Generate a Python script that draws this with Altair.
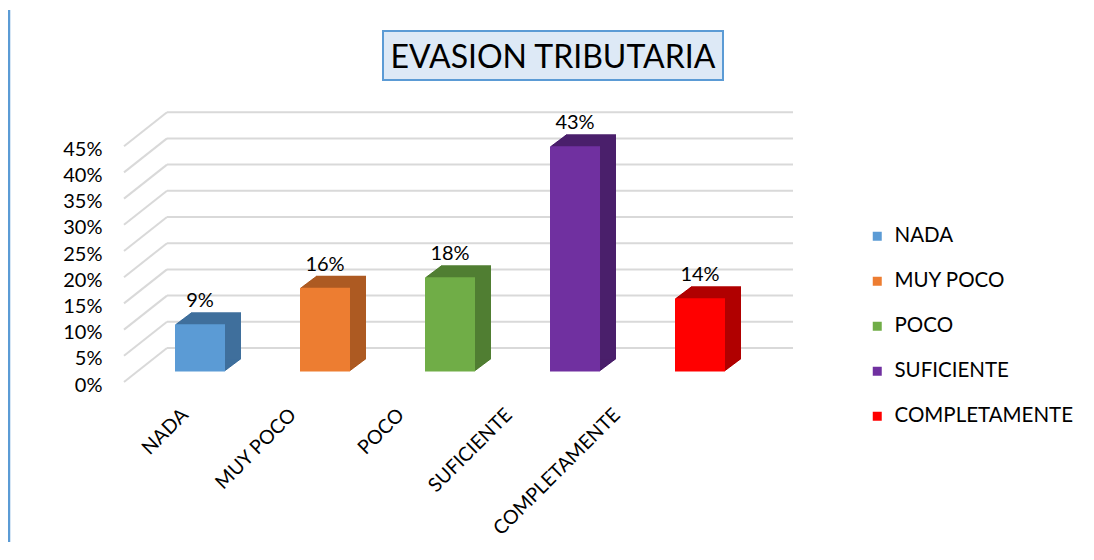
import altair as alt
import pandas as pd

categories = ["NADA", "MUY POCO", "POCO", "SUFICIENTE", "COMPLETAMENTE"]
values = [9, 16, 18, 43, 14]
front_colors = ["#5b9bd5", "#ed7d31", "#70ad47", "#7030a0", "#ff0000"]
side_colors = ["#3f6f9c", "#ad5a22", "#507e32", "#4a1f6b", "#b00000"]
ticks = [0, 5, 10, 15, 20, 25, 30, 35, 40, 45]
title_text = "EVASION TRIBUTARIA"

FONT = "Lato"
df = pd.DataFrame({"cat": categories, "value": values})
df["label"] = [f"{v}%" for v in values]
tick_df = pd.DataFrame({"t": ticks})

yscale = alt.Scale(domain=[0, 50])
y_axis = alt.Axis(values=ticks, labelExpr="datum.value + '%'", domain=False, ticks=False,
                  grid=False, labelPadding=23, labelFontSize=20, labelFont=FONT,
                  labelColor="#000000", labelOffset=3, title=None)
xband = alt.X("cat:N", sort=categories, axis=None,
              scale=alt.Scale(range=[12.5, 637.5], paddingInner=0.6, paddingOuter=0.3))

FRONT_OFF = -10.5
DEPTH_X = 16
DEPTH_Y = 12

grid_diag = alt.Chart(tick_df).mark_rule(color="#d9d9d9", strokeWidth=2, y2Offset=-34).encode(
    x=alt.value(-1), x2=alt.value(42),
    y=alt.Y("t:Q", scale=yscale, axis=y_axis),
    y2="t:Q",
)
grid_back = alt.Chart(tick_df).mark_rule(color="#d9d9d9", strokeWidth=2, yOffset=-34).encode(
    x=alt.value(42), x2=alt.value(668),
    y=alt.Y("t:Q", scale=yscale, axis=y_axis),
)

layers = [grid_diag, grid_back]
for i in range(1, DEPTH_X + 1):
    off = FRONT_OFF - DEPTH_Y * i / DEPTH_X
    layers.append(
        alt.Chart(df).mark_bar(xOffset=i, yOffset=off, y2Offset=off).encode(
            x=xband,
            y=alt.Y("value:Q", scale=yscale, axis=y_axis),
            color=alt.Color("cat:N", sort=categories, legend=None,
                            scale=alt.Scale(domain=categories, range=side_colors)),
        )
    )

front = alt.Chart(df).mark_bar(yOffset=FRONT_OFF, y2Offset=FRONT_OFF).encode(
    x=xband,
    y=alt.Y("value:Q", scale=yscale, axis=y_axis),
    color=alt.Color("cat:N", sort=categories,
                    scale=alt.Scale(domain=categories, range=front_colors),
                    legend=alt.Legend(title=None, orient="none", legendX=742, legendY=106,
                                      symbolType="square", symbolSize=81, symbolStrokeWidth=0,
                                      labelFontSize=20.5, labelFont=FONT, labelColor="#000000",
                                      rowPadding=24, labelOffset=7, labelLimit=0)),
)
layers.append(front)

data_labels = alt.Chart(df).mark_text(font=FONT, fontSize=20, color="#000000",
                                      baseline="middle", yOffset=FRONT_OFF - 23).encode(
    x=xband,
    y=alt.Y("value:Q", scale=yscale, axis=y_axis),
    text="label:N",
)
layers.append(data_labels)

x_labels = alt.Chart(df).mark_text(font=FONT, fontSize=19.5, color="#000000", angle=315,
                                   align="right", baseline="middle").encode(
    x=alt.X("cat:N", sort=categories, axis=None,
            scale=alt.Scale(type="point", range=[60, 492], padding=0)),
    y=alt.value(292),
    text="cat:N",
)
layers.append(x_labels)

title_box = alt.Chart(pd.DataFrame({"a": [0]})).mark_rect(
    fill="#dde9f6", stroke="#5b9bd5", strokeWidth=2).encode(
    x=alt.value(258), x2=alt.value(598), y=alt.value(-89), y2=alt.value(-40))
title_mark = alt.Chart(pd.DataFrame({"t": [title_text]})).mark_text(
    font=FONT, fontSize=32, color="#000000", baseline="middle", align="center").encode(
    x=alt.value(428), y=alt.value(-62), text="t:N")
border = alt.Chart(pd.DataFrame({"a": [0]})).mark_rule(color="#5b9bd5", strokeWidth=2.5).encode(
    x=alt.value(-116), y=alt.value(-110), y2=alt.value(440))
layers += [title_box, title_mark, border]

chart = alt.layer(*layers).resolve_scale(color="independent", x="independent").properties(
    width=670, height=262,
    padding={"left": 117, "top": 112, "right": 291, "bottom": 160},
    autosize=alt.AutoSizeParams(type="none"),
).configure(background="#ffffff").configure_view(stroke=None)

chart.save("out.html", embed_options={"renderer": "svg", "actions": False})
